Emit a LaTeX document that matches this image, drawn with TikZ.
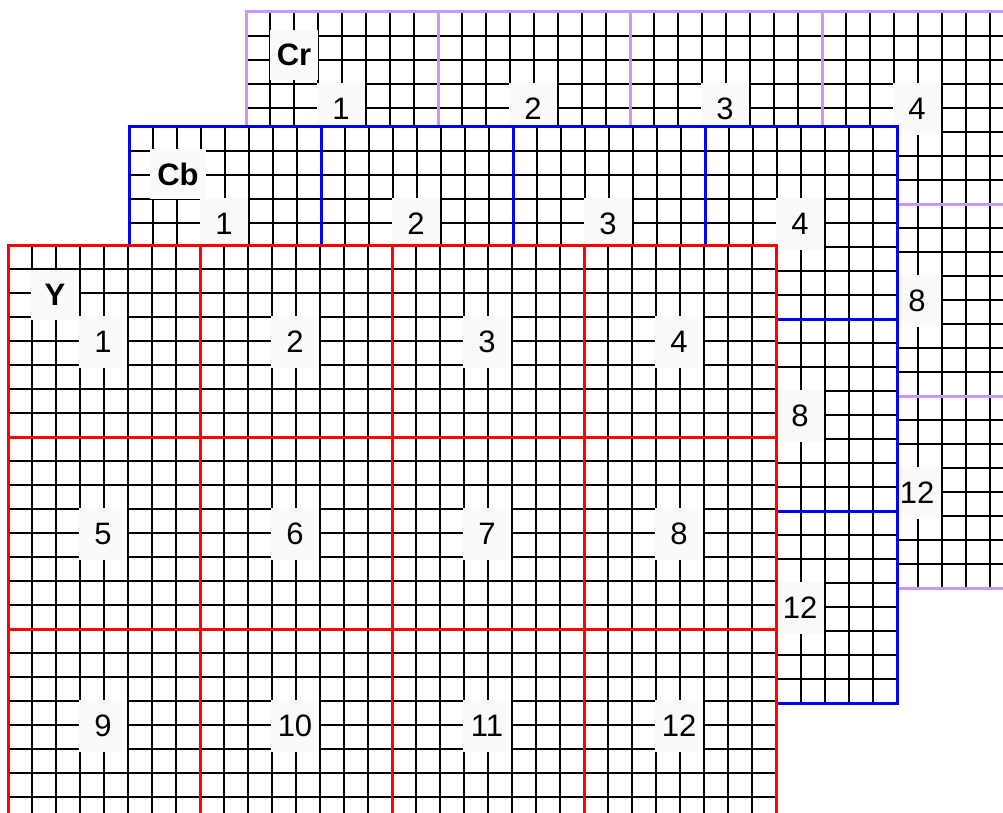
\documentclass[tikz,border=0pt]{standalone}
\usepackage{fontspec}
\setmainfont{Liberation Sans}
\definecolor{crcol}{RGB}{200,150,255}
\definecolor{cbcol}{RGB}{0,0,255}
\definecolor{ycol}{RGB}{255,0,0}
\definecolor{boxfill}{RGB}{250,250,250}
\tikzset{
  gridline/.style={black, line width=2pt},
  blockline/.style={line width=3pt},
  numlbl/.style={fill=boxfill, minimum width=48pt, minimum height=52pt, inner sep=0pt, font=\fontsize{31}{31}\selectfont},
  ttllbl/.style={numlbl, minimum height=50pt, inner xsep=7pt, font=\fontsize{31}{31}\selectfont\bfseries}
}
% #1 name, #2 #3 origin, #4 colour, #5 title, #6 #7 title centre offset
\newcommand\drawlayer[7]{%
  \begin{scope}[shift={(#2,#3)}]
    \fill[white] (0,0) rectangle (768,576);
    \foreach \i in {1,...,31} \draw[gridline] (\i*24,0) -- (\i*24,576);
    \foreach \j in {1,...,23} \draw[gridline] (0,\j*24) -- (768,\j*24);
    \foreach \r in {0,1,2} {
      \foreach \c in {0,1,2,3} {
        \pgfmathtruncatemacro\n{\r*4+\c+1}
        \node[numlbl] (#1-\n) at (\c*192+95,\r*192+97) {\n};
      }
    }
    \node[ttllbl] (#1-title) at (#6,#7) {#5};
    \draw[blockline, #4] (192,0) -- (192,576) (384,0) -- (384,576) (576,0) -- (576,576)
                         (0,192) -- (768,192) (0,384) -- (768,384);
    \draw[blockline, #4] (0,0) rectangle (768,576);
  \end{scope}}
\begin{document}
\begin{tikzpicture}[x=1pt,y=-1pt]
  \useasboundingbox (0,0) rectangle (1003,813);
  \clip (0,0) rectangle (1003,813);
  \fill[white] (0,0) rectangle (1003,813);
  \drawlayer{cr}{246}{12}{crcol}{Cr}{48}{43}
  \drawlayer{cb}{129}{127}{cbcol}{Cb}{49}{47}
  \drawlayer{y}{8}{245}{ycol}{Y}{47}{50}
\end{tikzpicture}
\end{document}
